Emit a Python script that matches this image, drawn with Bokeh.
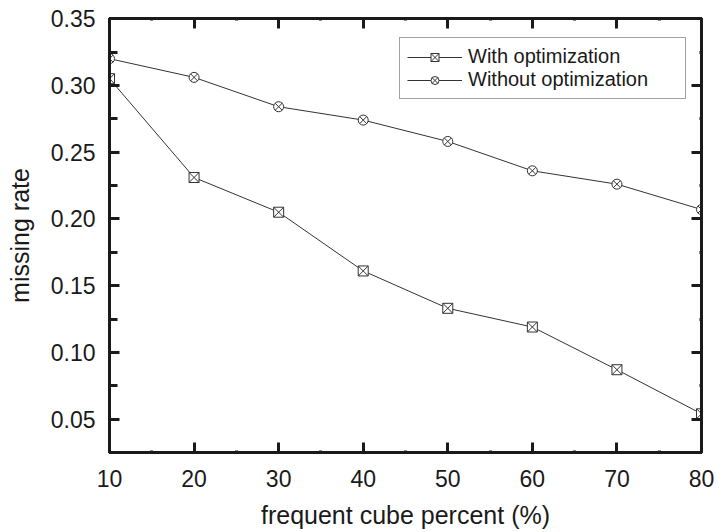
from bokeh.plotting import figure
from bokeh.models import (LinearAxis, SingleIntervalTicker, PrintfTickFormatter,
                          Range1d, Legend, LegendItem)
from bokeh.embed import file_html
from bokeh.resources import INLINE

# data
percent = [10, 20, 30, 40, 50, 60, 70, 80]
with_opt = [0.305, 0.231, 0.205, 0.161, 0.133, 0.119, 0.087, 0.054]
without_opt = [0.320, 0.306, 0.284, 0.274, 0.258, 0.236, 0.226, 0.207]
series_names = ["With optimization", "Without optimization"]
x_label = "frequent cube percent (%)"
y_label = "missing rate"

FONT = "Liberation Sans"
INK = "#1a1a1a"

p = figure(width=719, height=532, output_backend="svg", toolbar_location=None,
           x_range=Range1d(10, 80), y_range=Range1d(0.025, 0.3501),
           min_border_left=109, min_border_right=18, min_border_top=18,
           min_border_bottom=80, x_axis_location=None, y_axis_location=None)
p.background_fill_color = "white"
p.border_fill_color = "white"
p.outline_line_color = INK
p.outline_line_width = 3
p.xgrid.visible = False
p.ygrid.visible = False


def style_axis(ax, labels=True, minor_len=2):
    ax.axis_line_color = INK
    ax.axis_line_width = 3
    ax.major_tick_in = 10
    ax.major_tick_out = 0
    ax.minor_tick_in = minor_len
    ax.minor_tick_out = 0
    ax.major_tick_line_color = INK
    ax.major_tick_line_width = 3
    ax.minor_tick_line_color = INK
    ax.minor_tick_line_width = 3
    ax.major_label_text_font = FONT
    ax.major_label_text_font_size = "23px"
    ax.major_label_text_color = INK if labels else None
    ax.axis_label_text_font = FONT
    ax.axis_label_text_font_size = "25px"
    ax.axis_label_text_font_style = "normal"
    ax.axis_label_text_color = INK


xb = LinearAxis(ticker=SingleIntervalTicker(interval=10, num_minor_ticks=2),
                axis_label=x_label)
style_axis(xb)
xb.major_label_standoff = 17
xb.axis_label_standoff = 11
p.add_layout(xb, "below")

yl = LinearAxis(ticker=SingleIntervalTicker(interval=0.05, num_minor_ticks=2),
                formatter=PrintfTickFormatter(format="%.2f"), axis_label=y_label)
style_axis(yl, minor_len=8)
yl.major_label_standoff = 14
yl.axis_label_standoff = 14
p.add_layout(yl, "left")

xt = LinearAxis(ticker=SingleIntervalTicker(interval=10, num_minor_ticks=2))
style_axis(xt, labels=False)
p.add_layout(xt, "above")

yr = LinearAxis(ticker=SingleIntervalTicker(interval=0.05, num_minor_ticks=2))
style_axis(yr, labels=False)
p.add_layout(yr, "right")

l1 = p.line(percent, with_opt, line_color="#333333", line_width=1)
m1 = p.scatter(percent, with_opt, marker="square_x", size=10,
               fill_color="white", line_color="#333333", line_width=1)
l2 = p.line(percent, without_opt, line_color="#333333", line_width=1)
m2 = p.scatter(percent, without_opt, marker="circle_x", size=10,
               fill_color="white", line_color="#333333", line_width=1)

legend = Legend(items=[LegendItem(label=series_names[0], renderers=[l1, m1]),
                       LegendItem(label=series_names[1], renderers=[l2, m2])],
                location=(290, 353))
legend.border_line_color = "#444444"
legend.border_line_width = 1.5
legend.background_fill_color = "white"
legend.background_fill_alpha = 1
legend.padding = 7
legend.spacing = 0
legend.margin = 0
legend.glyph_width = 55
legend.glyph_height = 20
legend.label_height = 20
legend.label_width = 210
legend.label_standoff = 6
legend.label_text_font = FONT
legend.label_text_font_size = "20px"
legend.label_text_color = INK
p.add_layout(legend, "center")

open("out.html", "w").write(file_html(p, INLINE))
